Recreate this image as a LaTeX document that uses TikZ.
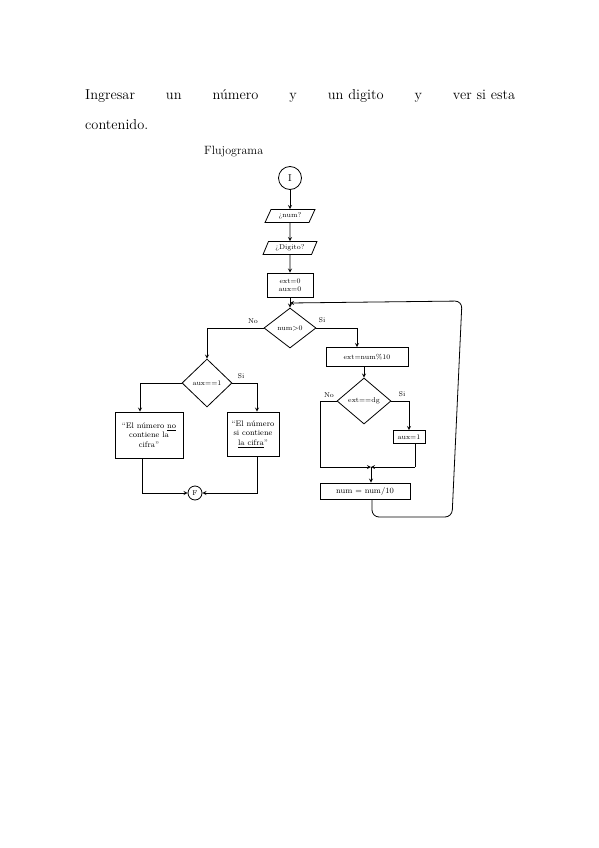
\documentclass[tikz,border=0pt]{standalone}
\usepackage{tikz}
\usetikzlibrary{shapes.geometric,arrows}
\tikzstyle{terminal}=[circle,draw=black,inner sep=0pt,line width=0.8]
\tikzstyle{datain}=[trapezium,trapezium left angle=65,trapezium right angle=115,trapezium stretches=true,draw=black,inner sep=1pt,font=\scriptsize,line width=0.8]
\tikzstyle{process}=[rectangle,draw=black,inner sep=1pt,font=\scriptsize,align=center,line width=0.8]
\tikzstyle{message}=[rectangle,draw=black,inner sep=1pt,font=\footnotesize,align=center,line width=0.8]
\tikzstyle{decision}=[diamond,draw=black,inner sep=0pt,font=\scriptsize,line width=0.8]
\tikzstyle{flow}=[->,>=stealth,line width=0.8]
\tikzstyle{simple}=[-,line width=0.8]
\tikzstyle{none}=[inner sep=0pt]
\tikzstyle{empty}=[inner sep=0pt,fill=none,draw=none]
\tikzstyle{answer}=[inner sep=0pt,font=\scriptsize]
\pgfdeclarelayer{edgelayer}
\pgfdeclarelayer{nodelayer}
\pgfsetlayers{edgelayer,nodelayer,main}
\begin{document}
\begin{tikzpicture}[x=1pt,y=-1pt]
	\useasboundingbox (0,0) rectangle (599,848);
	\begin{pgfonlayer}{nodelayer}
		\node [style=empty, anchor=base west, text width=430pt, font=\Large] (title) at (85,100) {Ingresar\hfill un\hfill número\hfill y\hfill un digito\hfill y\hfill ver si esta};
		\node [style=empty, anchor=base west, font=\Large] (title2) at (85,130) {contenido.};
		\node [style=empty, anchor=base west, font=\large] (flujo) at (204,154) {Flujograma};

		\node [style=terminal, minimum size=23] (I) at (290,178) {I};
		\node [style=datain, minimum width=50, minimum height=13] (num) at (290,216) {¿num?};
		\node [style=datain, minimum width=54, minimum height=13] (dig) at (290,248) {¿Digito?};
		\node [style=process, minimum width=46, minimum height=24] (init) at (290,285) {ext=0\\aux=0};
		\node [style=none] (join) at (290,303) {};
		\node [style=decision, minimum width=52, minimum height=40] (cond) at (290,328) {num>0};
		\node [style=answer] (condNo) at (253,321) {No};
		\node [style=answer] (condSi) at (322,320) {Si};

		\node [style=decision, minimum width=50, minimum height=48] (aux) at (207,383) {aux==1};
		\node [style=answer] (auxSi) at (241,376) {Si};
		\node [style=message, minimum width=68, minimum height=46] (noBox) at (149,435) {“El número \underline{no}\\contiene la\\cifra”};
		\node [style=message, minimum width=52, minimum height=44] (siBox) at (253,434) {“El número\\si contiene\\\underline{la cifra}”};
		\node [style=terminal, minimum size=14, font=\scriptsize] (F) at (195,493) {F};

		\node [style=process, minimum width=82, minimum height=19] (mod) at (367,357) {ext=num\%10};
		\node [style=decision, minimum width=54, minimum height=46] (ext) at (364,401) {ext==dg};
		\node [style=answer] (extNo) at (329,395) {No};
		\node [style=answer] (extSi) at (402,394) {Si};
		\node [style=process, minimum width=32, minimum height=13] (aux1) at (409,437) {aux=1};
		\node [style=none] (mergeL) at (320,467) {};
		\node [style=none] (merge) at (371,467) {};
		\node [style=none] (mergeR) at (415,467) {};
		\node [style=process, minimum width=90, minimum height=16, font=\footnotesize] (div) at (365,491) {num = num/10};
		\node [style=none] (loopBR) at (452,517) {};
		\node [style=none] (loopTR) at (462,301) {};
	\end{pgfonlayer}
	\begin{pgfonlayer}{edgelayer}
		\draw [style=flow] (I) to (num);
		\draw [style=flow] (num) to (dig);
		\draw [style=flow] (dig) to (init);
		\draw [style=simple] (init) to (join.center);
		\draw [style=flow] (join.center) to (cond);
		\draw [style=flow] (cond.west) -| (aux.north);
		\draw [style=flow] (cond.east) -| ([xshift=-10pt]mod.north);
		\draw [style=flow] (aux.east) -| ([xshift=4pt]siBox.north);
		\draw [style=flow] (aux.west) -| ([xshift=-9pt]noBox.north);
		\draw [style=flow] ([xshift=-7pt]noBox.south) |- (F.west);
		\draw [style=flow] ([xshift=4pt]siBox.south) |- (F.east);
		\draw [style=flow] ([xshift=-3pt]mod.south) to (ext.north);
		\draw [style=simple] (ext.west) -| (mergeL.center);
		\draw [style=flow] (mergeL.center) to (merge.center);
		\draw [style=flow] (ext.east) -| (aux1.north);
		\draw [style=simple] (mergeR.center |- aux1.south) to (mergeR.center);
		\draw [style=flow] (mergeR.center) to (merge.center);
		\draw [style=flow] (merge.center) to (merge.center |- div.north);
		\draw [style=flow, rounded corners=7pt] ([xshift=7pt]div.south) |- (loopBR.center) -- (loopTR.center) -- (join.center);
	\end{pgfonlayer}
\end{tikzpicture}
\end{document}
